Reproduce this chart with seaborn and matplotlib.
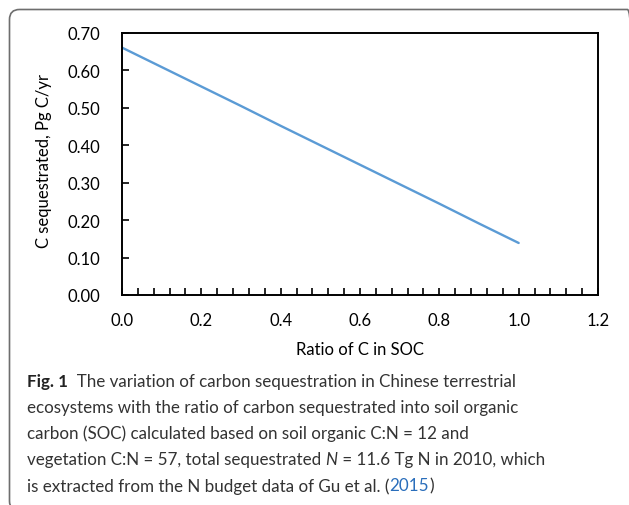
import numpy as np
import pandas as pd
import seaborn as sns
import matplotlib.pyplot as plt
from matplotlib.patches import FancyBboxPatch
from matplotlib.ticker import MultipleLocator, FixedLocator
from matplotlib.transforms import IdentityTransform

# ---- data ----
ratio = [0.0, 0.1, 0.2, 0.3, 0.4, 0.5, 0.6, 0.7, 0.8, 0.9, 1.0]
carbon = [0.661, 0.609, 0.557, 0.505, 0.452, 0.400, 0.348, 0.296, 0.244, 0.191, 0.139]
x_ticks = [0.0, 0.2, 0.4, 0.6, 0.8, 1.0, 1.2]
y_ticks = [0.0, 0.1, 0.2, 0.3, 0.4, 0.5, 0.6, 0.7]
x_label = "Ratio of C in SOC"
y_label = "C sequestrated, Pg C/yr"

caption_lines = [
    [("Fig. 1", "bold", "normal", "#222222"),
     ("  The variation of carbon sequestration in Chinese terrestrial", "normal", "normal", "#333333")],
    [("ecosystems with the ratio of carbon sequestrated into soil organic", "normal", "normal", "#333333")],
    [("carbon (SOC) calculated based on soil organic C:N = 12 and", "normal", "normal", "#333333")],
    [("vegetation C:N = 57, total sequestrated ", "normal", "normal", "#333333"),
     ("N", "normal", "italic", "#333333"),
     (" = 11.6 Tg N in 2010, which", "normal", "normal", "#333333")],
    [("is extracted from the N budget data of Gu et al. (", "normal", "normal", "#333333"),
     ("2015", "normal", "normal", "#2a6ebb"),
     (")", "normal", "normal", "#333333")],
]

sns.set_theme(style="white")
plt.rcParams["font.family"] = ["Lato", "DejaVu Sans"]

W, H = 629, 506
fig = plt.figure(figsize=(W / 100, H / 100), dpi=100)
fig.patch.set_facecolor("white")

ax = fig.add_axes([122 / W, 1 - 296 / H, (598 - 122) / W, (296 - 34) / H])
df = pd.DataFrame({"ratio": ratio, "carbon": carbon})
sns.lineplot(data=df, x="ratio", y="carbon", ax=ax, color="#5B9BD5", linewidth=1.7)

ax.set_xlim(0, 1.2)
ax.set_ylim(0, 0.7)
ax.xaxis.set_major_locator(FixedLocator(x_ticks))
ax.yaxis.set_major_locator(FixedLocator(y_ticks))
ax.xaxis.set_minor_locator(MultipleLocator(0.04))
ax.set_xticklabels([f"{v:.1f}" for v in x_ticks])
ax.set_yticklabels([f"{v:.2f}" for v in y_ticks])
ax.tick_params(axis="both", which="both", direction="in", length=5, width=1.2,
               color="black", labelsize=12, labelcolor="black")
ax.tick_params(axis="x", which="both", bottom=True, top=False, pad=12)
ax.tick_params(axis="y", which="both", left=True, right=False, pad=16)
for s in ax.spines.values():
    s.set_visible(True)
    s.set_color("black")
    s.set_linewidth(1.4)

ax.set_xlabel(x_label, fontsize=12, color="black")
ax.set_ylabel(y_label, fontsize=12, color="black")
ax.xaxis.set_label_coords(0.5, -0.175)
ax.yaxis.set_label_coords(-0.148, 0.515)

# rounded frame (in pixel coordinates), open towards the right and bottom edges
frame = FancyBboxPatch((9.5, -6), 628, H - 10.5 + 6,
                       boxstyle="round,pad=0,rounding_size=10",
                       transform=IdentityTransform(), fill=False,
                       edgecolor="#6e6e6e", linewidth=1.2, clip_on=False)
fig.patches.append(frame)

# caption
renderer = fig.canvas.get_renderer()
cap_font = ["Lato", "DejaVu Sans"]
probe = fig.text(0, 0, caption_lines[1][0][0], fontsize=10, family=cap_font,
                 transform=IdentityTransform())
w10 = probe.get_window_extent(renderer).width
probe.remove()
cap_size = 1.08 * 10 * (484 - 27) / w10

line_centers = [381, 407, 432, 459, 485]
for parts, yc in zip(caption_lines, line_centers):
    x = 27
    for txt, weight, style, col in parts:
        t = fig.text(x, H - yc, txt, fontsize=cap_size, family=cap_font,
                     fontweight=weight, fontstyle=style, color=col,
                     ha="left", va="center_baseline", transform=IdentityTransform())
        x = t.get_window_extent(renderer).x1

fig.savefig("out.png", dpi=100)
